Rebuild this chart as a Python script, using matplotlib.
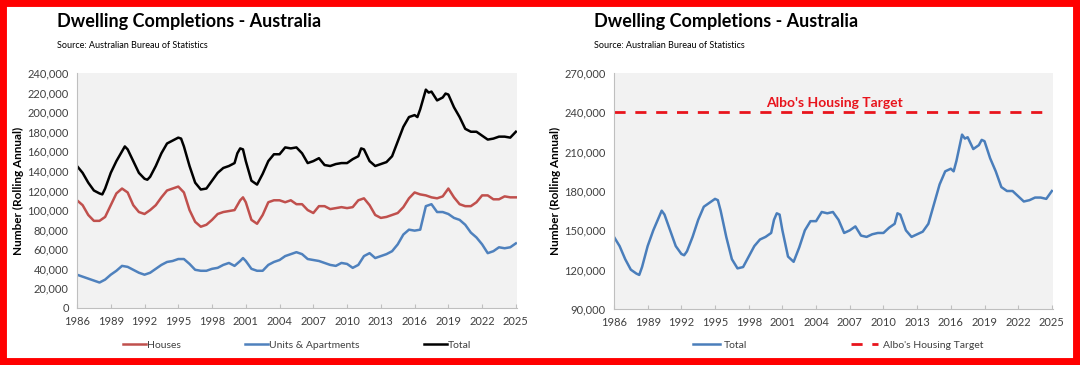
import numpy as np
import matplotlib
matplotlib.use("Agg")
import matplotlib.pyplot as plt
from matplotlib.patches import Rectangle
from matplotlib.ticker import FuncFormatter

plt.rcParams['font.family'] = ['Lato', 'DejaVu Sans']

# ---- data (rolling annual, thousands) ----
total_yr = [1986, 1986.5, 1987, 1987.5, 1988, 1988.25, 1988.5, 1989, 1989.5, 1990, 1990.25, 1990.5,
            1991, 1991.5, 1992, 1992.25, 1992.5, 1993, 1993.5, 1994, 1994.5, 1995, 1995.25, 1995.5,
            1996, 1996.5, 1997, 1997.5, 1998, 1998.5, 1999, 1999.5, 2000, 2000.25, 2000.5, 2000.75,
            2001, 2001.5, 2002, 2002.5, 2003, 2003.5, 2004, 2004.5, 2005, 2005.5, 2006, 2006.5,
            2007, 2007.5, 2008, 2008.5, 2009, 2009.5, 2010, 2010.5, 2011, 2011.25, 2011.5, 2012,
            2012.5, 2013, 2013.5, 2014, 2014.5, 2015, 2015.5, 2016, 2016.25, 2016.5, 2017, 2017.25,
            2017.5, 2018, 2018.5, 2018.75, 2019, 2019.5, 2020, 2020.5, 2021, 2021.5, 2022, 2022.5,
            2023, 2023.5, 2024, 2024.5, 2025]
total = [145, 138, 128, 120, 117, 116, 122, 138, 150, 160, 165, 162,
         150, 138, 132, 131, 134, 145, 158, 168, 171, 174, 173, 165,
         145, 128, 121, 122, 130, 138, 143, 145, 148, 158, 163, 162,
         150, 130, 126, 137, 150, 157, 157, 164, 163, 164, 158, 148,
         150, 153, 146, 145, 147, 148, 148, 152, 155, 163, 162, 150,
         145, 147, 149, 155, 170, 185, 195, 197, 195, 203, 223, 220,
         221, 212, 215, 219, 218, 205, 195, 183, 180, 180, 176, 172,
         173, 175, 175, 174, 180]

hu_yr = [1986, 1986.5, 1987, 1987.5, 1988, 1988.5, 1989, 1989.5, 1990, 1990.5, 1991, 1991.5,
         1992, 1992.5, 1993, 1993.5, 1994, 1994.5, 1995, 1995.5, 1996, 1996.5, 1997, 1997.5,
         1998, 1998.5, 1999, 1999.5, 2000, 2000.5, 2000.75, 2001, 2001.5, 2002, 2002.5, 2003,
         2003.5, 2004, 2004.5, 2005, 2005.5, 2006, 2006.5, 2007, 2007.5, 2008, 2008.5, 2009,
         2009.5, 2010, 2010.5, 2011, 2011.5, 2012, 2012.5, 2013, 2013.5, 2014, 2014.5, 2015,
         2015.5, 2016, 2016.5, 2017, 2017.5, 2018, 2018.5, 2019, 2019.5, 2020, 2020.5, 2021,
         2021.5, 2022, 2022.5, 2023, 2023.5, 2024, 2024.5, 2025]
houses = [110, 105, 95, 89, 89, 93, 105, 117, 122, 118, 105, 98,
          96, 100, 105, 113, 120, 122, 124, 118, 100, 88, 83, 85,
          90, 96, 98, 99, 100, 110, 113, 108, 90, 86, 95, 108,
          110, 110, 108, 110, 106, 106, 100, 97, 104, 104, 101, 102,
          103, 102, 103, 110, 112, 105, 95, 92, 93, 95, 97, 103,
          112, 118, 116, 115, 113, 112, 114, 122, 113, 106, 104, 104,
          108, 115, 115, 111, 111, 114, 113, 113]
units = [34, 32, 30, 28, 26, 29, 34, 38, 43, 42, 39, 36,
         34, 36, 40, 44, 47, 48, 50, 50, 45, 39, 38, 38,
         40, 41, 44, 46, 43, 48, 51, 48, 40, 38, 38, 44,
         47, 49, 53, 55, 57, 55, 50, 49, 48, 46, 44, 43,
         46, 45, 41, 44, 53, 56, 51, 53, 55, 58, 65, 75,
         80, 79, 80, 104, 106, 98, 98, 96, 92, 90, 85, 77,
         72, 65, 56, 58, 62, 61, 62, 66]

target = 240
target_yr = [1986, 2024.6]
years_ticks = list(range(1986, 2026, 3))

RED = '#c0504d'
BLUE = '#4f81bd'
GRID_BG = '#f2f2f2'
TXT = '#404040'

fig = plt.figure(figsize=(10.8, 3.65), dpi=100)
fig.patch.set_facecolor('white')

def style(ax, ylim, yticks):
    ax.set_facecolor(GRID_BG)
    for s in ['top', 'right']:
        ax.spines[s].set_visible(False)
    for s in ['left', 'bottom']:
        ax.spines[s].set_color('#bfbfbf')
        ax.spines[s].set_linewidth(0.8)
    ax.set_xlim(1986, 2025.1)
    ax.set_ylim(*ylim)
    ax.set_yticks(yticks)
    ax.set_xticks(years_ticks)
    ax.yaxis.set_major_formatter(FuncFormatter(lambda v, p: f'{int(v):,}'))
    ax.tick_params(axis='y', length=0, labelsize=8, labelcolor=TXT, pad=6)
    ax.tick_params(axis='x', direction='in', length=3, color='#bfbfbf', labelsize=8,
                   labelcolor=TXT, pad=6)
    ax.set_ylabel('Number (Rolling Annual)', fontsize=8.5, fontweight='bold', color='black', labelpad=2)

# left panel
ax1 = fig.add_axes([0.0713, 0.1562, 0.4074, 0.6438])
ax1.plot(hu_yr, np.array(houses) * 1000, color=RED, lw=1.8, label='Houses')
ax1.plot(hu_yr, np.array(units) * 1000, color=BLUE, lw=1.8, label='Units & Apartments')
ax1.plot(total_yr, np.array(total) * 1000, color='black', lw=1.8, label='Total')
style(ax1, (0, 240000), range(0, 240001, 20000))
ax1.legend(loc='center', bbox_to_anchor=(0.50, -0.157), ncol=3, frameon=False,
           fontsize=7.5, handlelength=2.2, handletextpad=0.1, columnspacing=6.2,
           labelcolor=TXT)

# right panel
ax2 = fig.add_axes([0.5685, 0.1534, 0.4065, 0.6466])
ax2.plot(total_yr, np.array(total) * 1000, color='#4a7ebb', lw=1.8, label='Total')
ax2.plot(target_yr, [target * 1000] * 2, color='#e8141c', lw=2, dashes=(4, 3.5),
         label="Albo's Housing Target")
style(ax2, (90000, 270000), range(90000, 270001, 30000))
ax2.text(2005.6, 242500, "Albo's Housing Target", color='#e8141c', fontsize=10,
         fontweight='bold', ha='center', va='bottom')
ax2.legend(loc='center', bbox_to_anchor=(0.51, -0.153), ncol=2, frameon=False,
           fontsize=7.5, handlelength=2.6, handletextpad=0.4, columnspacing=10,
           labelcolor=TXT)

# titles
for x0 in [57 / 1080, 594 / 1080]:
    fig.text(x0, 1 - 22 / 365, 'Dwelling Completions - Australia', fontsize=13,
             fontweight='bold', color='black', va='center', ha='left')
    fig.text(x0, 1 - 46 / 365, 'Source: Australian Bureau of Statistics', fontsize=6.5,
             color='black', va='center', ha='left')

# red frame
fig.patches.append(Rectangle((0, 0), 1, 1, transform=fig.transFigure, fill=False,
                             edgecolor='#ff0000', linewidth=10, zorder=10))

fig.savefig('out.png', dpi=100)
